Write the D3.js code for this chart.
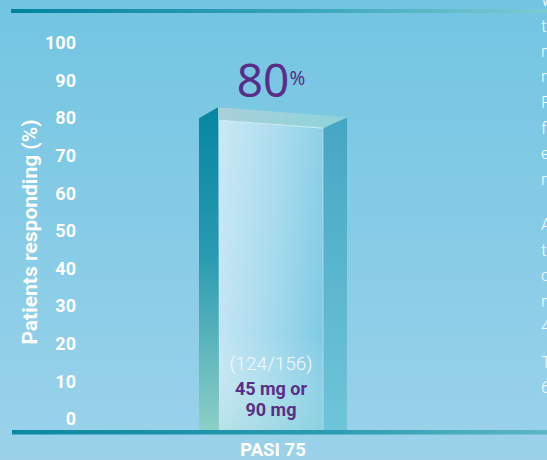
<!DOCTYPE html>
<html>
<head>
<meta charset="utf-8">
<script src="https://cdn.jsdelivr.net/npm/d3@7"></script>
<style>
  html, body { margin: 0; padding: 0; background: #86cce6; overflow: hidden; }
  svg { display: block; font-family: Roboto, "Noto Sans", sans-serif; }
</style>
</head>
<body>
<div id="chart"></div>
<script>
var svgWidth = 547;
var svgHeight = 460;

// chart data
var categories = ["PASI 75"];
var values = [80];
var counts = ["(124/156)"];
var doseLines = ["45 mg or", "90 mg"];
var yTicks = [0, 10, 20, 30, 40, 50, 60, 70, 80, 90, 100];
var yTitle = "Patients responding (%)";
// clipped paragraph on the right edge of the page
var sideText = [
  ["When", "the", "response", "rate", "PASI", "for", "each", "measured"],
  ["At", "the", "completion", "response", "45"],
  ["The", "62"]
];
var sideBaselines = [
  [6, 32, 57, 82, 108, 134, 159, 185],
  [230, 256, 281, 307, 332],
  [368, 393]
];

var svg = d3.select("#chart")
  .append("svg")
  .attr("width", svgWidth)
  .attr("height", svgHeight);

var defs = svg.append("defs");

function linGrad(id, x1, y1, x2, y2, stops) {
  var g = defs.append("linearGradient")
    .attr("id", id)
    .attr("x1", x1).attr("y1", y1).attr("x2", x2).attr("y2", y2);
  stops.forEach(function(s) {
    g.append("stop").attr("offset", s[0]).attr("stop-color", s[1])
      .attr("stop-opacity", s[2] == null ? 1 : s[2]);
  });
}

linGrad("bg", 0, 0, 0, 1, [["0%", "#72c5e2"], ["100%", "#9bd2ea"]]);
linGrad("topRule", 0, 0, 1, 0, [["0%", "#00839d"], ["55%", "#3aa5bb"], ["100%", "#7ccbd3"]]);
linGrad("baseRule", 0, 0, 1, 0, [["0%", "#0d88a2"], ["60%", "#2c9cb2"], ["100%", "#5db6c6"]]);
linGrad("leftFace", 0, 0, 0, 1, [["0%", "#06879f"], ["45%", "#2899b0"], ["100%", "#8ccfc6"]]);
linGrad("frontFace", 0, 0, 1, 0, [["0%", "#c3e5f3"], ["55%", "#a2d8ec"], ["100%", "#7fcae4"]]);
linGrad("frontShade", 0, 0, 0, 1, [["0%", "#ffffff", 0.12], ["70%", "#ffffff", 0], ["100%", "#9fdcd6", 0.35]]);
linGrad("rightFace", 0, 0, 0, 1, [["0%", "#45a6c3"], ["100%", "#6fc5d9"]]);
linGrad("topFace", 0, 0, 1, 0, [["0%", "#a9cfd9"], ["100%", "#8dd4da"]]);

svg.append("rect")
  .attr("width", svgWidth)
  .attr("height", svgHeight)
  .attr("fill", "url(#bg)");

// scales
var y = d3.scaleLinear().domain([0, 100]).range([419, 43]);
var x = d3.scaleBand().domain(categories).range([199, 347]);
var floorY = y(0) + 11;

// top rule
svg.append("rect")
  .attr("x", 11).attr("y", 9)
  .attr("width", svgWidth - 11).attr("height", 4)
  .attr("fill", "url(#topRule)");

// y axis labels
var leftAxis = d3.axisLeft(y).tickValues(yTicks).tickSize(0).tickPadding(0);
var axisG = svg.append("g")
  .attr("transform", "translate(76,0)")
  .call(leftAxis);
axisG.select(".domain").remove();
axisG.selectAll("text")
  .attr("fill", "#ffffff")
  .style("font-family", "Roboto, sans-serif")
  .style("font-weight", "700")
  .style("font-size", "18px");

// y axis title
svg.append("text")
  .attr("transform", "translate(37," + (y(50) + 1) + ") rotate(-90)")
  .attr("text-anchor", "middle")
  .attr("fill", "#ffffff")
  .style("font-weight", "700")
  .style("font-size", "21px")
  .text(yTitle);

// 3D bar
var bars = svg.selectAll("g.bar")
  .data(categories)
  .enter()
  .append("g")
  .attr("class", "bar");

bars.each(function(c, i) {
  var g = d3.select(this);
  var x0 = x(c);
  var w = x.bandwidth();
  var xL = x0 + w * 0.135;      // left edge of front face
  var xR = x0 + w * 0.838;      // right edge of front face
  var x1 = x0 + w;
  var top = y(values[i]);

  var frontTL = [xL, top + 2], frontTR = [xR, top + 10];
  var backL = [xL - 1, top - 11], backR = [x1, top - 1];

  g.append("polygon")
    .attr("points", [[x0, top], backL, [xL, floorY], [x0, floorY]].join(" "))
    .attr("fill", "url(#leftFace)");

  g.append("polygon")
    .attr("points", [frontTR, backR, [x1, floorY], [xR, floorY]].join(" "))
    .attr("fill", "url(#rightFace)");

  g.append("polygon")
    .attr("points", [frontTL, frontTR, [xR, floorY], [xL, floorY]].join(" "))
    .attr("fill", "url(#frontFace)");
  g.append("polygon")
    .attr("points", [frontTL, frontTR, [xR, floorY], [xL, floorY]].join(" "))
    .attr("fill", "url(#frontShade)");

  g.append("polygon")
    .attr("points", [backL, backR, frontTR, frontTL].join(" "))
    .attr("fill", "url(#topFace)");

  g.append("line")
    .attr("x1", frontTL[0]).attr("y1", frontTL[1])
    .attr("x2", frontTR[0]).attr("y2", frontTR[1])
    .attr("stroke", "#e6f6fb").attr("stroke-opacity", 0.7).attr("stroke-width", 1);
  g.append("line")
    .attr("x1", xR).attr("y1", frontTR[1])
    .attr("x2", xR).attr("y2", floorY)
    .attr("stroke", "#d8f0f8").attr("stroke-opacity", 0.5).attr("stroke-width", 1);

  var cx = (xL + xR) / 2;

  // value label
  var val = g.append("text")
    .attr("x", cx)
    .attr("y", y(values[i]) - 21)
    .attr("text-anchor", "middle")
    .attr("fill", "#5a2d86")
    .style("font-family", "'Noto Sans', sans-serif")
    .style("font-size", "46px")
    .style("font-weight", "400");
  val.append("tspan").text(values[i]);
  val.append("tspan")
    .attr("dy", -12)
    .style("font-size", "19px")
    .text("%");

  // counts and dose
  g.append("text")
    .attr("x", cx)
    .attr("y", floorY - 60)
    .attr("text-anchor", "middle")
    .attr("fill", "#f2fafd")
    .style("font-weight", "300")
    .style("font-size", "19px")
    .text(counts[i]);

  g.selectAll("text.dose")
    .data(doseLines)
    .enter()
    .append("text")
    .attr("class", "dose")
    .attr("x", cx)
    .attr("y", function(d, j) { return floorY - 35 + j * 21; })
    .attr("text-anchor", "middle")
    .attr("fill", "#5a2d86")
    .style("font-weight", "700")
    .style("font-size", "18px")
    .text(function(d) { return d; });

  // category label
  g.append("text")
    .attr("x", cx + 2)
    .attr("y", floorY + 26)
    .attr("text-anchor", "middle")
    .attr("fill", "#ffffff")
    .style("font-weight", "700")
    .style("font-size", "18.5px")
    .text(c);
});

// baseline rule
svg.append("rect")
  .attr("x", 12).attr("y", floorY)
  .attr("width", svgWidth - 12).attr("height", 4.5)
  .attr("fill", "url(#baseRule)");

// clipped side paragraph
sideText.forEach(function(lines, p) {
  svg.append("g")
    .selectAll("text")
    .data(lines)
    .enter()
    .append("text")
    .attr("x", 541)
    .attr("y", function(d, j) { return sideBaselines[p][j]; })
    .attr("fill", "#f4fbfe")
    .style("font-weight", "300")
    .style("font-size", "17px")
    .text(function(d) { return d; });
});
</script>
</body>
</html>
